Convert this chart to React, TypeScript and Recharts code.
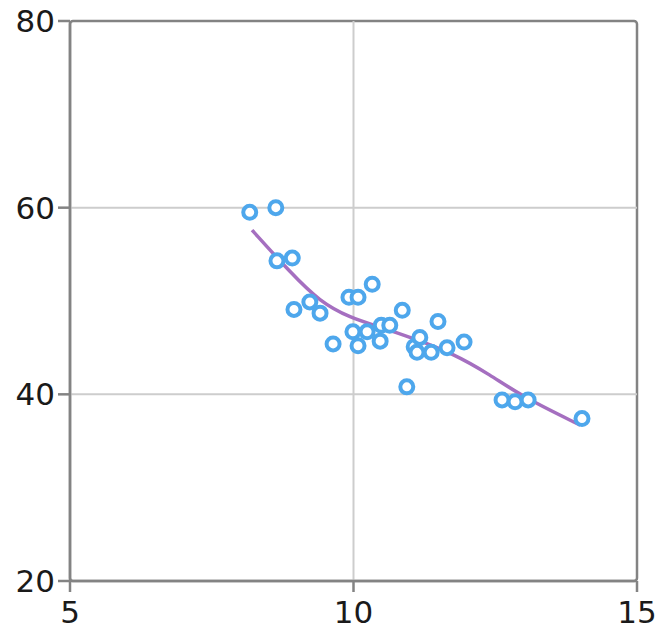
import { ComposedChart, Scatter, Line, XAxis, YAxis, ReferenceLine, ReferenceArea } from 'recharts';

const pointX = [8.17, 8.63, 8.65, 8.92, 8.95, 9.23, 9.41, 9.64, 9.92, 10.08, 10.33, 9.99, 10.24, 10.08, 10.47, 10.49, 10.64, 10.86, 10.94, 11.07, 11.12, 11.17, 11.37, 11.49, 11.65, 11.95, 12.62, 12.85, 13.08, 14.03];
const pointY = [59.5, 60.0, 54.3, 54.6, 49.1, 49.9, 48.7, 45.4, 50.4, 50.4, 51.8, 46.7, 46.7, 45.2, 45.7, 47.4, 47.4, 49.0, 40.8, 45.1, 44.5, 46.1, 44.5, 47.8, 45.0, 45.6, 39.4, 39.2, 39.4, 37.4];

const curveX = [8.21, 8.88, 9.41, 9.94, 10.47, 11.05, 11.75, 12.41, 12.99, 14.0];
const curveY = [57.6, 53.1, 49.9, 48.2, 47.2, 46.0, 44.4, 42.1, 39.7, 36.7];

const xTicks = [5, 10, 15];
const yTicks = [20, 40, 60, 80];

const points = pointX.map((x, i) => ({ x, y: pointY[i] }));
const curve = curveX.map((x, i) => ({ x, y: curveY[i] }));

const axisColor = '#838383';
const gridColor = '#cdcdcd';
const tickStyle = { fontFamily: 'DejaVu Sans', fontSize: 31, fill: '#1a1a1a' };

const Ring = (props: any) => (
  <circle cx={props.cx} cy={props.cy} r={6.5} fill="#fff" stroke="#4ea7ec" strokeWidth={4} />
);

export default function App() {
  return (
    <div style={{ position: 'absolute', left: 0, top: 0, background: '#fff' }}>
      <ComposedChart width={659} height={633} margin={{ top: 21, right: 22, bottom: 0, left: 0 }}>
        <ReferenceLine x={10} stroke={gridColor} strokeWidth={2} />
        <ReferenceLine y={40} stroke={gridColor} strokeWidth={2} />
        <ReferenceLine y={60} stroke={gridColor} strokeWidth={2} />
        <ReferenceArea x1={5} x2={15} y1={20} y2={80} fill="none" stroke={axisColor} strokeWidth={2.5} radius={3} />
        <XAxis
          type="number"
          dataKey="x"
          domain={[5, 15]}
          ticks={xTicks}
          height={52}
          stroke={axisColor}
          strokeWidth={2.5}
          tickSize={11}
          tickMargin={9}
          tick={tickStyle}
          interval={0}
          allowDataOverflow
        />
        <YAxis
          type="number"
          dataKey="y"
          domain={[20, 80]}
          ticks={yTicks}
          width={70}
          stroke={axisColor}
          strokeWidth={2.5}
          tickSize={12}
          tickMargin={3}
          tick={tickStyle}
          interval={0}
          allowDataOverflow
        />
        <Line
          data={curve}
          dataKey="y"
          type="basis"
          stroke="#a56fc0"
          strokeWidth={3.5}
          dot={false}
          isAnimationActive={false}
        />
        <Scatter data={points} dataKey="y" shape={Ring} isAnimationActive={false} />
      </ComposedChart>
    </div>
  );
}
